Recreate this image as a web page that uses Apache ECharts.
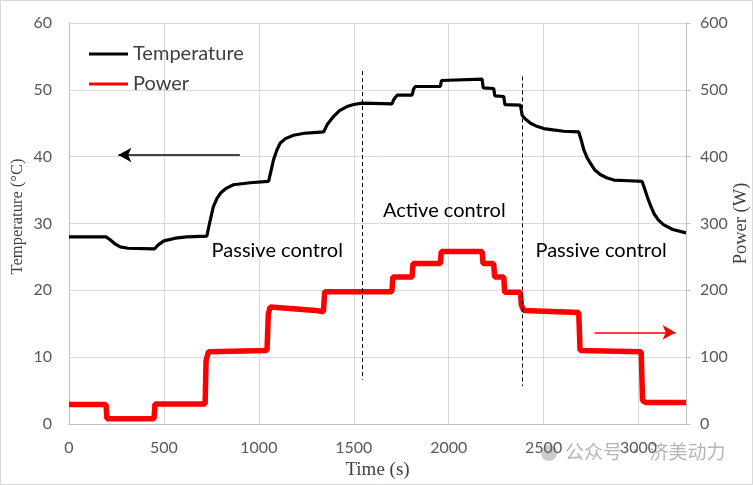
<!DOCTYPE html>
<html><head><meta charset="utf-8">
<script src="https://cdn.jsdelivr.net/npm/echarts@6/dist/echarts.min.js"></script>
<style>html,body{margin:0;padding:0;background:#fff}#c{width:753px;height:485px}</style>
</head><body><div id="c"></div>
<script>
// Temperature (°C) vs time (s)
const tempTime = [0,195,215,240,270,310,450,470,500,560,620,726,740,760,780,800,830,866,954,1051,1065,1077,1095,1112,1140,1183,1240,1289,1341,1360,1393,1425,1464,1500,1543,1701,1712,1728,1807,1815,1824,1956,1962,1970,2176,2182,2237,2243,2290,2296,2378,2387,2405,2431,2460,2501,2550,2606,2685,2700,2712,2730,2747,2770,2800,2835,2870,2950,3019,3032,3046,3063,3081,3105,3133,3180,3250];
const tempValues = [28.0,28.0,27.6,27.0,26.5,26.3,26.2,26.8,27.4,27.8,28.0,28.1,30.0,32.5,33.8,34.6,35.3,35.8,36.1,36.3,38.0,39.5,41.0,42.0,42.7,43.2,43.5,43.6,43.7,44.8,46.0,46.9,47.5,47.8,48.0,47.9,48.6,49.2,49.2,50.1,50.5,50.5,51.4,51.6,51.6,50.3,50.2,49.1,49.0,47.8,47.7,46.2,45.6,45.0,44.6,44.2,44.0,43.8,43.7,42.3,41.0,39.8,39.0,38.0,37.3,36.8,36.5,36.4,36.3,35.2,34.0,32.7,31.5,30.5,29.8,29.1,28.6];
// Power (W) vs time (s)
const powerTime = [0,195,200,448,453,717,722,735,1043,1050,1060,1300,1340,1347,1701,1706,1807,1812,1956,1961,2176,2181,2237,2242,2290,2295,2378,2383,2395,2685,2692,3014,3021,3040,3250];
const powerValues = [29,29,8,8,30,30,95,108,110,165,175,170,168,198,198,220,220,240,240,258,258,240,240,220,220,197,197,178,170,167,110,108,35,32,32];
// axes
const xTicks = {min:0, max:3250, interval:500};
const tempTicks = {min:0, max:60, interval:10};
const powerTicks = {min:0, max:600, interval:100};

const chart = echarts.init(document.getElementById('c'));
const tick = {color:'#595959', fontSize:16, fontFamily:'Lato', formatter:v=>String(v)};
const grid = {lineStyle:{color:'#d9d9d9', width:1}};
chart.setOption({
  animation:false,
  backgroundColor:'#fff',
  grid:{left:69, right:67, top:23, bottom:61, containLabel:false, outerBoundsMode:'none'},
  legend:{
    orient:'vertical', left:84, top:39, itemGap:10, itemWidth:39, itemHeight:3, icon:'rect',
    textStyle:{fontSize:20, color:'#404040', fontFamily:'Lato', padding:[0,0,0,0]},
    data:['Temperature','Power']
  },
  xAxis:{
    type:'value', min:xTicks.min, max:xTicks.max, interval:xTicks.interval,
    name:'Time (s)', nameLocation:'middle', nameGap:37,
    nameTextStyle:{fontFamily:'Liberation Serif', fontSize:19, color:'#404040'},
    axisLine:{show:true, lineStyle:{color:'#bfbfbf'}}, axisTick:{show:false},
    axisLabel:Object.assign({margin:16, showMaxLabel:false}, tick), splitLine:grid
  },
  yAxis:[{
    type:'value', min:tempTicks.min, max:tempTicks.max, interval:tempTicks.interval,
    name:'Temperature (°C)', nameLocation:'middle', nameGap:43, nameRotate:90, nameMoveOverlap:false,
    nameTextStyle:{fontFamily:'Liberation Serif', fontSize:16.5, color:'#404040', padding:[0,0,0,14]},
    axisLine:{show:true, lineStyle:{color:'#bfbfbf'}}, axisTick:{show:false},
    axisLabel:Object.assign({margin:17}, tick), splitLine:grid
  },{
    type:'value', min:powerTicks.min, max:powerTicks.max, interval:powerTicks.interval, position:'right',
    name:'Power (W)', nameLocation:'middle', nameGap:46, nameRotate:90, nameMoveOverlap:false,
    nameTextStyle:{fontFamily:'Liberation Serif', fontSize:18.5, color:'#404040'},
    axisLine:{show:true, lineStyle:{color:'#bfbfbf'}}, axisTick:{show:true, length:4, lineStyle:{color:'#bfbfbf'}},
    axisLabel:Object.assign({margin:14}, tick), splitLine:{show:false}
  }],
  series:[{
    name:'Power', type:'line', yAxisIndex:1, showSymbol:false, symbol:'none',
    data:powerTime.map((t,i)=>[t,powerValues[i]]),
    lineStyle:{color:'#ff0000', width:5.5}, itemStyle:{color:'#ff0000'},
    markLine:{silent:true, symbol:['none','arrow'], symbolSize:[11,13], animation:false,
      lineStyle:{color:'#ff0000', width:1.5, type:'solid'}, label:{show:false},
      data:[[{coord:[2768,137]},{coord:[3195,137]}]]}
  },{
    name:'Temperature', type:'line', yAxisIndex:0, showSymbol:false, symbol:'none', z:3,
    data:tempTime.map((t,i)=>[t,tempValues[i]]),
    lineStyle:{color:'#000', width:3.2}, itemStyle:{color:'#000'},
    markLine:{silent:true, animation:false, label:{show:false},
      data:[
        [{coord:[1546,52.8], symbol:'none', lineStyle:{color:'#000', width:1, type:[4,3]}},{coord:[1546,6.6], symbol:'none'}],
        [{coord:[2387,52.0], symbol:'none', lineStyle:{color:'#000', width:1, type:[4,3]}},{coord:[2387,5.7], symbol:'none'}],
        [{coord:[900,40.25], symbol:'none', lineStyle:{color:'#000', width:1.5, type:'solid'}},{coord:[260,40.25], symbol:'arrow', symbolSize:[11,13]}]
      ]},
    markPoint:{silent:true, animation:false, symbol:'circle', symbolSize:0,
      label:{show:true, position:'inside', fontFamily:'Lato', fontSize:20, color:'#000'},
      data:[
        {coord:[1097,26.0], label:{formatter:'Passive control'}},
        {coord:[1977,32.0], label:{formatter:'Active control'}},
        {coord:[2803,26.0], label:{formatter:'Passive control'}}
      ]}
  }],
  graphic:[
    {type:'rect', shape:{x:0.5, y:0.5, width:752, height:484}, style:{fill:'none', stroke:'#d9d9d9', lineWidth:1}, silent:true},
    {type:'circle', shape:{cx:549, cy:453, r:8}, style:{fill:'rgba(160,160,160,0.55)'}, silent:true},
    {type:'text', left:565, top:442, style:{text:'公众号 · 济美动力', font:'19px "Noto Sans CJK SC"', fill:'rgba(150,150,150,0.7)'}, silent:true}
  ]
});
</script></body></html>
